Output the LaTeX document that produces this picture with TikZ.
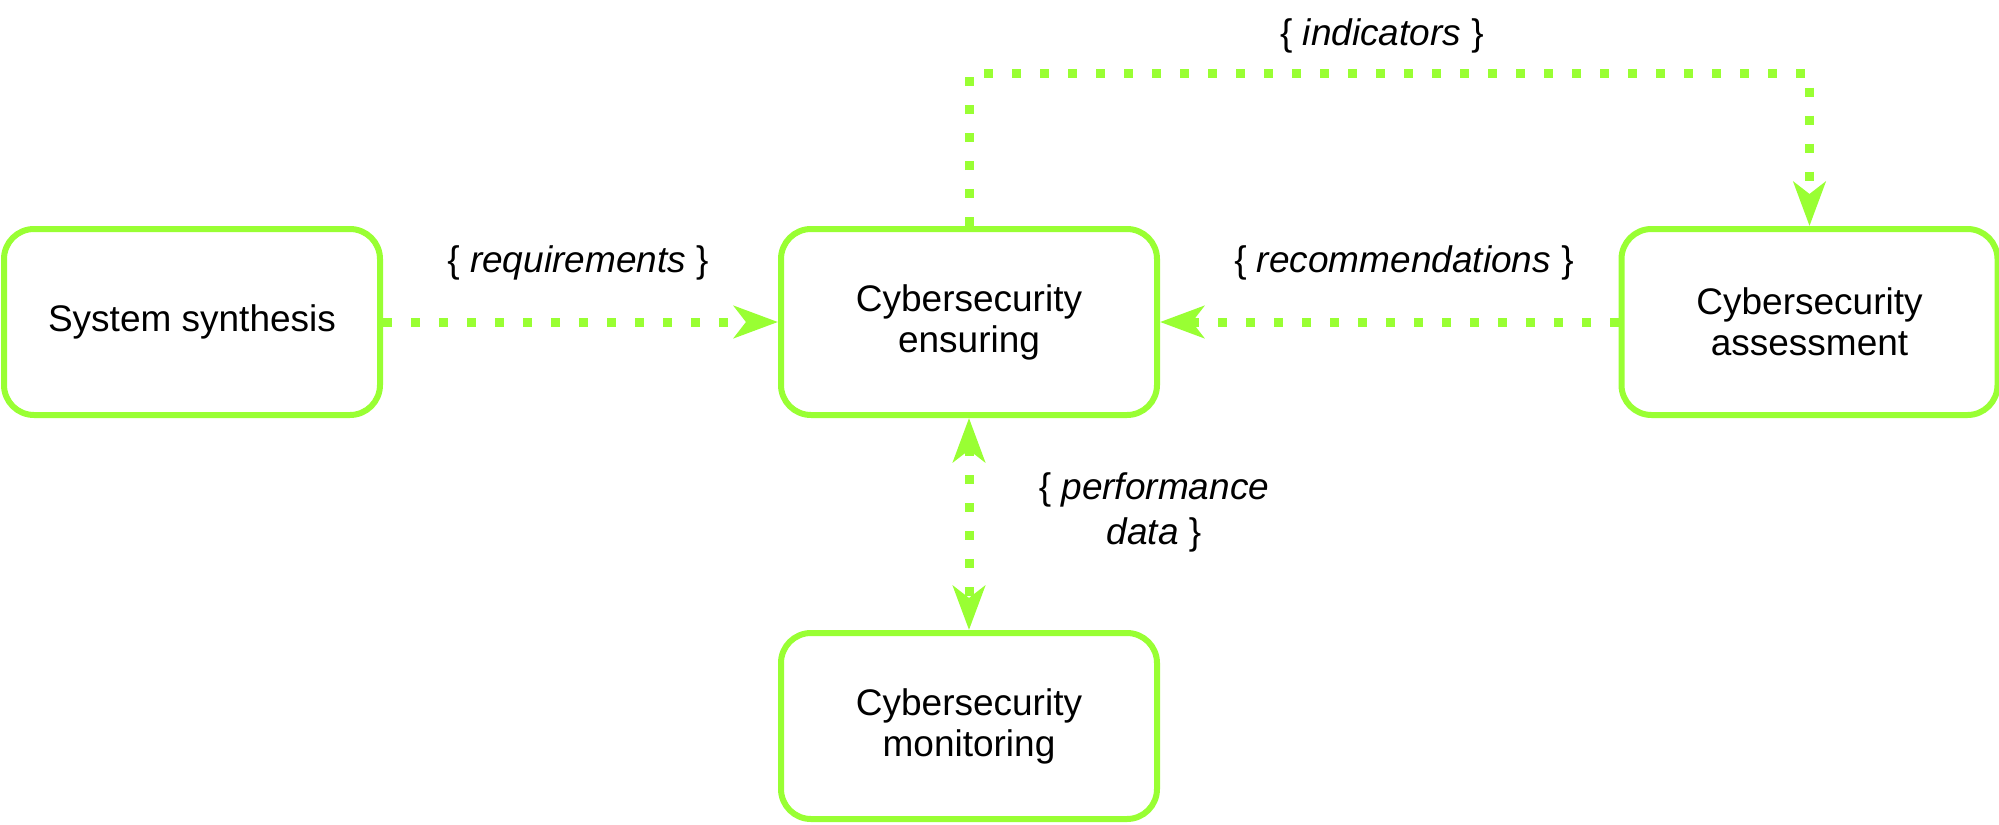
\documentclass[tikz,border=0pt]{standalone}
\usepackage{fontspec}
\setmainfont{Liberation Sans}
\usetikzlibrary{arrows.meta}
\definecolor{lime}{RGB}{153,255,51}
\tikzset{
  tip/.style={Stealth[length=22pt, width=16pt, inset=6pt, fill=lime]},
  box/.style={draw=lime, line width=3pt, rounded corners=15pt, minimum width=188pt, minimum height=93pt, align=center, font=\fontsize{18.5pt}{20.5pt}\selectfont, inner sep=0pt},
  lbl/.style={align=center, font=\fontsize{18.5pt}{22.5pt}\selectfont, inner sep=0pt},
  flow/.style={draw=lime, line width=4.5pt, dash pattern=on 4.5pt off 9.5pt, -{Stealth[length=22pt, width=16pt, inset=6pt, fill=lime]}},
  biflow/.style={draw=lime, line width=4.5pt, dash pattern=on 4.5pt off 9.5pt, {Stealth[length=22pt, width=16pt, inset=6pt, fill=lime]}-{Stealth[length=22pt, width=16pt, inset=6pt, fill=lime]}}
}
\begin{document}
\begin{tikzpicture}[x=0.5pt, y=-0.5pt]
\useasboundingbox (0,0) rectangle (1999,825);
\node[box] (ss) at (192,322) {System synthesis};
\node[box] (ens) at (969,322) {Cybersecurity\\ensuring};
\node[box] (ass) at (1809.5,322) {Cybersecurity\\assessment};
\node[box] (mon) at (969,726) {Cybersecurity\\monitoring};
\coordinate (c1) at (969,73);
\coordinate (c2) at (1809.5,73);
\draw[flow] (ss.east) -- (ens.west);
\draw[flow] (ass.west) -- (ens.east);
\draw[flow] (ens.north) -- (c1) -- (c2) -- (ass.north);
\draw[biflow] (ens.south) -- (mon.north);
\node[lbl] (lreq) at (578,263) {\{ \textit{requirements} \}};
\node[lbl] (lrec) at (1404,263) {\{ \textit{recommendations} \}};
\node[lbl] (lind) at (1382,36) {\{ \textit{indicators} \}};
\node[lbl] (lperf) at (1154,512) {\{ \textit{performance}\\\textit{data} \}};
\end{tikzpicture}
\end{document}
